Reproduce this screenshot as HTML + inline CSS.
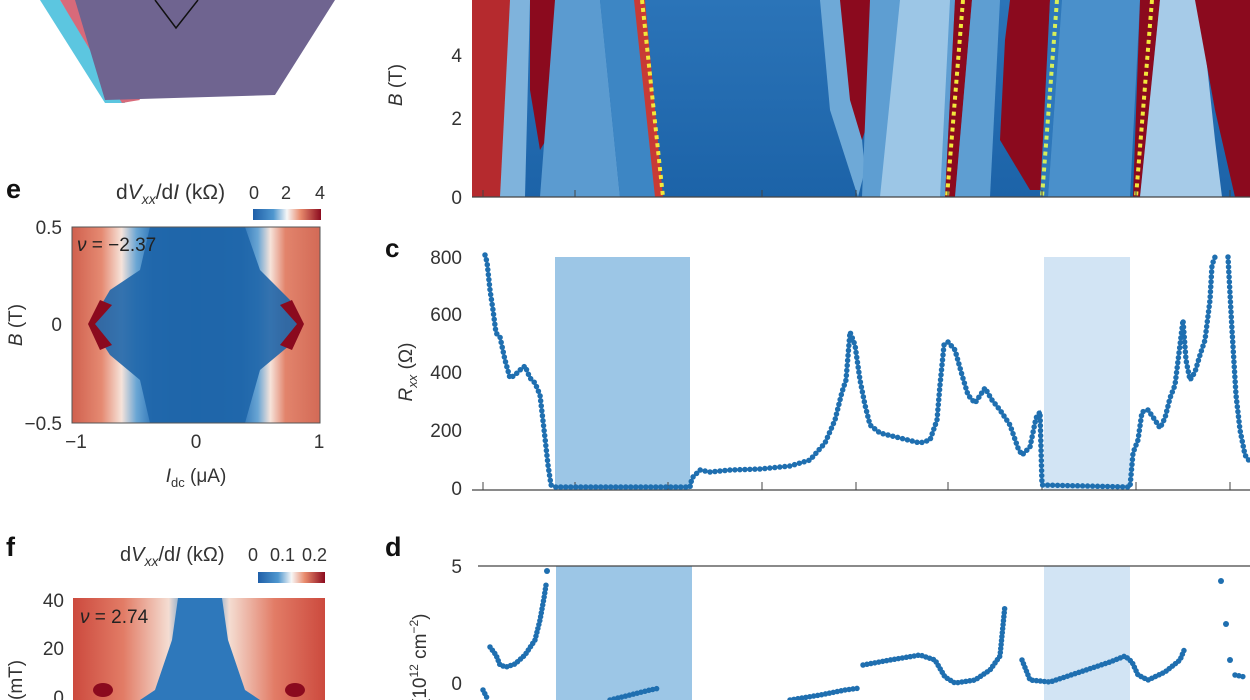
<!DOCTYPE html>
<html><head><meta charset="utf-8"><style>
html,body{margin:0;padding:0;background:#fff;}
svg{display:block;font-family:"Liberation Sans",sans-serif;}
</style></head><body>
<svg width="1250" height="700" viewBox="0 0 1250 700" xmlns="http://www.w3.org/2000/svg">
<defs>
<linearGradient id="eg" x1="0" x2="1" y1="0" y2="0">
<stop offset="0" stop-color="#d0604e"/><stop offset="0.12" stop-color="#e58a72"/><stop offset="0.2" stop-color="#f6e3da"/><stop offset="0.26" stop-color="#6aa6d4"/><stop offset="0.33" stop-color="#2a72b6"/><stop offset="0.5" stop-color="#1c63a8"/><stop offset="0.68" stop-color="#2a72b6"/><stop offset="0.75" stop-color="#6aa6d4"/><stop offset="0.8" stop-color="#f6e3da"/><stop offset="0.86" stop-color="#e2846c"/><stop offset="1" stop-color="#d36a56"/>
</linearGradient>
<linearGradient id="fg" x1="0" x2="1" y1="0" y2="0">
<stop offset="0" stop-color="#cc4a3e"/><stop offset="0.2" stop-color="#e27c66"/><stop offset="0.38" stop-color="#f4ddd2"/><stop offset="0.45" stop-color="#4f8fc6"/><stop offset="0.55" stop-color="#4f8fc6"/><stop offset="0.62" stop-color="#f4ddd2"/><stop offset="0.8" stop-color="#e27c66"/><stop offset="1" stop-color="#cc4a3e"/>
</linearGradient>
<linearGradient id="cb" x1="0" x2="1"><stop offset="0" stop-color="#1f5fa8"/><stop offset="0.3" stop-color="#4f97cf"/><stop offset="0.5" stop-color="#f7f7f7"/><stop offset="0.7" stop-color="#e88a6c"/><stop offset="1" stop-color="#8b0a1e"/></linearGradient>
<linearGradient id="bb" x1="0" x2="0" y1="0" y2="1"><stop offset="0" stop-color="#2b74b8"/><stop offset="1" stop-color="#1c63a8"/></linearGradient>
</defs>

<!-- panel a -->
<polygon points="40,0 60,0 125,103 105,103" fill="#5cc6e0"/>
<polygon points="60,0 80,0 140,100 122,103" fill="#d86a7a"/>
<polygon points="75,0 335,0 275,95 105,100" fill="#6f6490"/>
<polyline points="155,0 176,28 198,0" fill="none" stroke="#111" stroke-width="1.5"/>

<!-- panel b heatmap -->
<rect x="472" y="0" width="778" height="197" fill="url(#bb)"/>
<polygon points="472,0 510,0 512,120 500,197 472,197" fill="#b52a2e"/>
<polygon points="510,0 530,0 525,197 500,197" fill="#7fb3dc"/>
<polygon points="530,0 560,0 552,130 540,150 530,90" fill="#8b0a1e"/>
<polygon points="555,0 600,0 620,197 540,197" fill="#5b9bd0"/>
<polygon points="600,0 640,0 660,197 620,197" fill="#3d86c4"/>
<polygon points="634,0 645,0 663,197 655,197" fill="#c83a35"/>
<polygon points="820,0 848,0 865,170 858,197 830,110" fill="#6ea9d7"/>
<polygon points="840,0 880,0 872,110 862,140 850,100" fill="#8b0a1e"/>
<polygon points="870,0 955,0 945,197 862,197" fill="#5e9ed2"/>
<polygon points="900,0 950,0 940,197 880,197" fill="#9cc6e6"/>
<polygon points="955,0 972,0 955,197 945,197" fill="#8b0a1e"/>
<polygon points="972,0 1000,0 990,197 955,197" fill="#5e9ed2"/>
<polygon points="1010,0 1050,0 1042,190 1030,190 1000,140 1005,40" fill="#8b0a1e"/>
<polygon points="1050,0 1062,0 1048,197 1040,197" fill="#2e78bb"/>
<polygon points="1062,0 1140,0 1130,197 1048,197" fill="#4a90cb"/>
<polygon points="1140,0 1160,0 1150,100 1140,197 1133,197" fill="#8b0a1e"/>
<polygon points="1160,0 1200,0 1215,140 1222,197 1140,197" fill="#a6cbe8"/>
<polygon points="1195,0 1250,0 1250,197 1235,197 1215,110" fill="#8b0a1e"/>
<line x1="642" y1="0" x2="663" y2="197" stroke="#f2e83a" stroke-width="4" stroke-dasharray="4 4"/>
<line x1="963" y1="0" x2="947" y2="197" stroke="#f2e83a" stroke-width="4" stroke-dasharray="4 4"/>
<line x1="1057" y1="0" x2="1042" y2="197" stroke="#d6ef5a" stroke-width="4" stroke-dasharray="4 4"/>
<line x1="1152" y1="0" x2="1136" y2="197" stroke="#f2e83a" stroke-width="4" stroke-dasharray="4 4"/>
<line x1="472" y1="197" x2="1250" y2="197" stroke="#444" stroke-width="1.2"/>
<g stroke="#444" stroke-width="1"><line x1="483" y1="190" x2="483" y2="197"/><line x1="575" y1="190" x2="575" y2="197"/><line x1="762" y1="190" x2="762" y2="197"/><line x1="856" y1="190" x2="856" y2="197"/><line x1="948" y1="190" x2="948" y2="197"/><line x1="1042" y1="190" x2="1042" y2="197"/><line x1="1136" y1="190" x2="1136" y2="197"/><line x1="1230" y1="190" x2="1230" y2="197"/></g>
<g font-size="19" fill="#333" text-anchor="end"><text x="462" y="62">4</text><text x="462" y="125">2</text><text x="462" y="204">0</text></g>
<text transform="translate(402,85) rotate(-90)" font-size="19" fill="#333" text-anchor="middle"><tspan font-style="italic">B</tspan> (T)</text>

<!-- panel c -->
<text x="385" y="257" font-size="26" font-weight="bold" fill="#111">c</text>
<rect x="555" y="257" width="135" height="233" fill="#9cc6e6"/>
<rect x="1044" y="257" width="86" height="233" fill="#d2e4f4"/>
<line x1="472" y1="490" x2="1250" y2="490" stroke="#444" stroke-width="1.2"/>
<g stroke="#444" stroke-width="1"><line x1="483" y1="482" x2="483" y2="490"/><line x1="575" y1="482" x2="575" y2="490"/><line x1="668" y1="482" x2="668" y2="490"/><line x1="762" y1="482" x2="762" y2="490"/><line x1="856" y1="482" x2="856" y2="490"/><line x1="948" y1="482" x2="948" y2="490"/><line x1="1042" y1="482" x2="1042" y2="490"/><line x1="1136" y1="482" x2="1136" y2="490"/><line x1="1230" y1="482" x2="1230" y2="490"/></g>
<g font-size="19" fill="#333" text-anchor="end"><text x="462" y="264">800</text><text x="462" y="321">600</text><text x="462" y="379">400</text><text x="462" y="437">200</text><text x="462" y="495">0</text></g>
<text transform="translate(412,372) rotate(-90)" font-size="19" fill="#333" text-anchor="middle"><tspan font-style="italic">R</tspan><tspan font-style="italic" font-size="13" dy="5">xx</tspan><tspan dy="-5"> (Ω)</tspan></text>
<g fill="none" stroke="#1f6fb0">
<path d="M485,255 L487,262 490,290 493,310 496,333 500,337 505,360 510,378 515,375 520,370 525,366 530,378 535,383 540,395 545,438 548,465 551,485 555,487 690,487 692,478 700,470 710,472 730,470 760,469 790,466 810,460 825,443 835,420 842,392 846,380 850,332 855,345 860,380 865,405 870,425 880,433 900,438 920,443 930,440 937,420 940,385 944,345 948,342 955,350 962,375 968,395 975,403 985,388 992,400 1000,410 1010,425 1018,448 1022,455 1030,447 1036,418 1040,412 1042,485 1130,487 1133,453 1138,440 1142,412 1148,410 1155,420 1160,428 1165,418 1170,398 1175,385 1180,345 1183,320 1186,360 1190,380 1195,372 1200,355 1205,340 1210,300 1212,265 1215,257" stroke-width="1.5"/>
<path d="M485,255 L487,262 490,290 493,310 496,333 500,337 505,360 510,378 515,375 520,370 525,366 530,378 535,383 540,395 545,438 548,465 551,485 555,487 690,487 692,478 700,470 710,472 730,470 760,469 790,466 810,460 825,443 835,420 842,392 846,380 850,332 855,345 860,380 865,405 870,425 880,433 900,438 920,443 930,440 937,420 940,385 944,345 948,342 955,350 962,375 968,395 975,403 985,388 992,400 1000,410 1010,425 1018,448 1022,455 1030,447 1036,418 1040,412 1042,485 1130,487 1133,453 1138,440 1142,412 1148,410 1155,420 1160,428 1165,418 1170,398 1175,385 1180,345 1183,320 1186,360 1190,380 1195,372 1200,355 1205,340 1210,300 1212,265 1215,257" stroke-width="5.5" stroke-dasharray="0 5" stroke-linecap="round"/>
<path d="M1228,257 L1232,330 1236,395 1240,430 1245,455 1250,462" stroke-width="1.5"/>
<path d="M1228,257 L1232,330 1236,395 1240,430 1245,455 1250,462" stroke-width="5.5" stroke-dasharray="0 5" stroke-linecap="round"/>
</g>

<!-- panel e -->
<text x="6" y="198" font-size="27" font-weight="bold" fill="#111">e</text>
<text x="116" y="199" font-size="21" fill="#333">d<tspan font-style="italic">V</tspan><tspan font-style="italic" font-size="14" dy="5">xx</tspan><tspan dy="-5">/d</tspan><tspan font-style="italic">I</tspan> (kΩ)</text>
<g font-size="18" fill="#333" text-anchor="middle"><text x="254" y="199">0</text><text x="286" y="199">2</text><text x="320" y="199">4</text></g>
<rect x="253" y="209" width="68" height="11" fill="url(#cb)"/>
<rect x="72" y="227" width="248" height="196" fill="url(#eg)"/>
<polygon points="90,324 110,290 140,270 150,227 245,227 260,270 290,300 302,324 290,345 260,370 245,423 150,423 140,380 110,355" fill="#1f66aa" opacity="0.9"/>
<polygon points="88,324 100,300 112,305 95,324 112,345 100,350" fill="#8b0a1e"/>
<polygon points="304,324 292,300 280,305 297,324 280,345 292,350" fill="#8b0a1e"/>
<rect x="72" y="227" width="248" height="196" fill="none" stroke="#555" stroke-width="1"/>
<text x="77" y="251" font-size="19" fill="#222"><tspan font-style="italic">ν</tspan> = −2.37</text>
<g font-size="19" fill="#333" text-anchor="end"><text x="62" y="234">0.5</text><text x="62" y="331">0</text><text x="62" y="430">−0.5</text></g>
<g font-size="19" fill="#333" text-anchor="middle"><text x="76" y="448">−1</text><text x="196" y="448">0</text><text x="319" y="448">1</text></g>
<text x="196" y="482" font-size="19" fill="#333" text-anchor="middle"><tspan font-style="italic">I</tspan><tspan font-size="13" dy="5">dc</tspan><tspan dy="-5"> (μA)</tspan></text>
<text transform="translate(22,325) rotate(-90)" font-size="19" fill="#333" text-anchor="middle"><tspan font-style="italic">B</tspan> (T)</text>

<!-- panel f -->
<text x="6" y="556" font-size="27" font-weight="bold" fill="#111">f</text>
<text x="120" y="561" font-size="20" fill="#333">d<tspan font-style="italic">V</tspan><tspan font-style="italic" font-size="14" dy="5">xx</tspan><tspan dy="-5">/d</tspan><tspan font-style="italic">I</tspan> (kΩ)</text>
<text x="248" y="561" font-size="18" fill="#333">0</text><text x="270" y="561" font-size="18" fill="#333">0.1</text><text x="302" y="561" font-size="18" fill="#333">0.2</text>
<rect x="258" y="572" width="67" height="11" fill="url(#cb)"/>
<rect x="73" y="598" width="252" height="102" fill="url(#fg)"/>
<polygon points="178,598 222,598 228,640 245,690 260,700 140,700 155,690 172,640" fill="#2e78bb"/>
<ellipse cx="103" cy="690" rx="10" ry="7" fill="#8b0a1e"/><ellipse cx="295" cy="690" rx="10" ry="7" fill="#8b0a1e"/>
<text x="80" y="623" font-size="19" fill="#222"><tspan font-style="italic">ν</tspan> =  2.74</text>
<g font-size="19" fill="#333" text-anchor="end"><text x="64" y="607">40</text><text x="64" y="655">20</text><text x="64" y="704">0</text></g>
<text transform="translate(22,700) rotate(-90)" font-size="19" fill="#333" text-anchor="start">(mT)</text>

<!-- panel d -->
<text x="385" y="556" font-size="27" font-weight="bold" fill="#111">d</text>
<rect x="556" y="566" width="136" height="134" fill="#9cc6e6"/>
<rect x="1044" y="566" width="86" height="134" fill="#d2e4f4"/>
<line x1="478" y1="566" x2="1250" y2="566" stroke="#444" stroke-width="1.2"/>
<g font-size="19" fill="#333" text-anchor="end"><text x="462" y="573">5</text><text x="462" y="690">0</text></g>
<text transform="translate(426,705) rotate(-90)" font-size="19" fill="#333" text-anchor="start">(10<tspan font-size="12" dy="-8">12</tspan><tspan dy="8"> cm</tspan><tspan font-size="12" dy="-8">−2</tspan><tspan dy="8">)</tspan></text>
<g fill="none" stroke="#1f6fb0" stroke-width="5.5" stroke-dasharray="0 4" stroke-linecap="round">
<path d="M483,690 L488,700"/>
<path d="M490,647 L496,655 500,665 506,667 515,664 525,655 535,640 540,620 544,598 546,585"/>
<path d="M610,700 L630,695 650,690 660,688"/>
<path d="M790,700 L820,695 845,690 860,688"/>
<path d="M863,665 L890,660 920,655 935,660 945,677 955,683 975,680 990,670 1000,656 1005,605"/>
<path d="M1022,660 L1030,680 1050,682 1080,672 1110,662 1125,656 1132,662 1138,675 1148,680 1165,672 1180,660 1185,648"/>
<path d="M1235,675 L1245,677"/>
</g>
<g fill="#1f6fb0"><circle cx="547" cy="571" r="3"/><circle cx="1221" cy="581" r="3"/><circle cx="1226" cy="624" r="3"/><circle cx="1230" cy="660" r="3"/></g>
</svg>
</body></html>
